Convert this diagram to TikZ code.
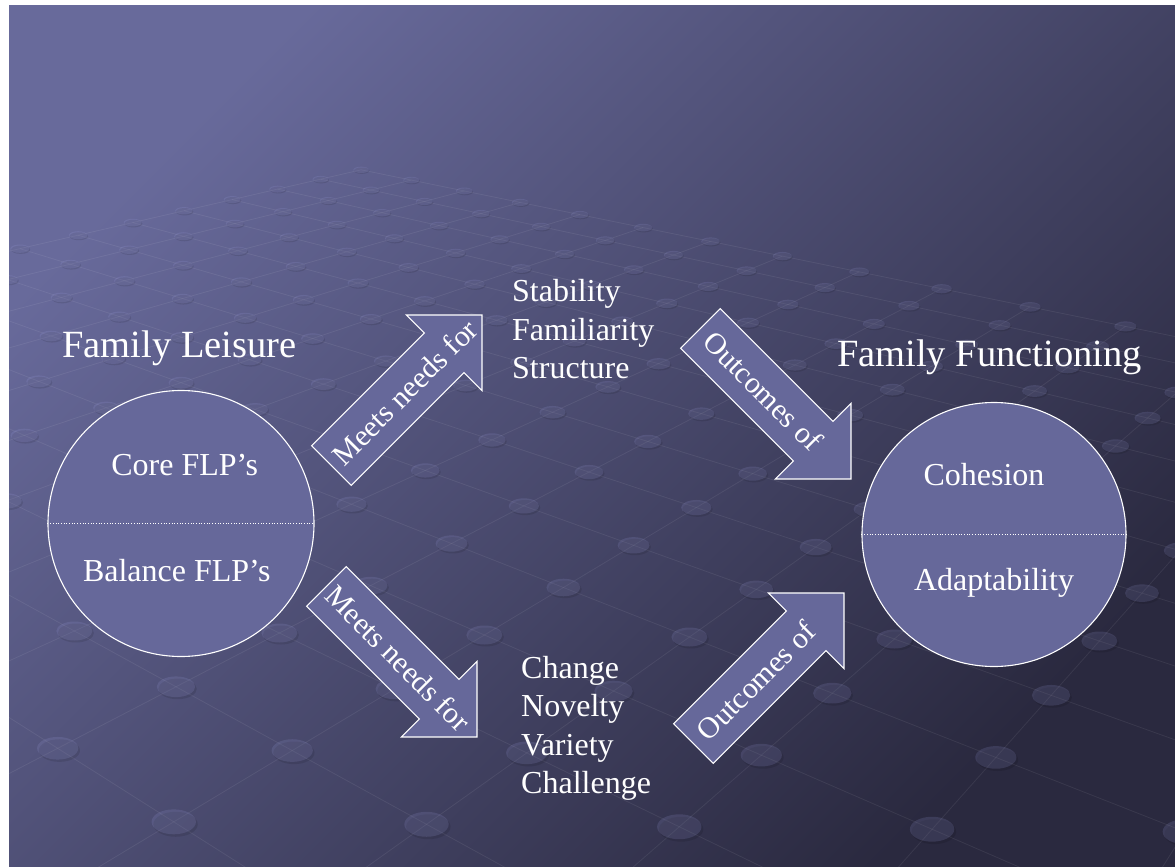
\documentclass[tikz,border=0pt]{standalone}
\usepackage{fontspec}
\setmainfont{Liberation Serif}
\begin{document}
\begin{tikzpicture}[x=1pt,y=-1pt]
\definecolor{bgtop}{RGB}{104,106,155}
\definecolor{bgbottom}{RGB}{42,41,63}
\definecolor{shapefill}{RGB}{102,104,154}
\definecolor{dotlight}{RGB}{160,162,225}
\tikzset{
  shapebox/.style={fill=shapefill, draw=white, line width=1.1pt, line join=miter},
  partcircle/.style={shapebox, circle, inner sep=0pt},
  divider/.style={draw=white, line width=0.7pt, dotted},
  titletext/.style={text=white, inner sep=0pt, font=\fontsize{38.5}{46}\selectfont},
  itemtext/.style={text=white, inner sep=0pt, font=\fontsize{32}{38}\selectfont},
  arrowtext/.style={text=white, inner sep=0pt, font=\fontsize{30}{36}\selectfont},
  gridline/.style={draw=white, opacity=0.07, line width=0.8pt},
  dotshadow/.style={fill=black, opacity=0.10},
  dotface/.style={fill=dotlight, opacity=0.16},
}
% perspective lattice point (u,v) -> named coordinate
\newcommand\latticept[3]{%
  \pgfmathsetmacro\lw{1-0.063*((#1)+(#2))}%
  \pgfmathsetmacro\lx{(279.4+90.5*(#1)-114.5*(#2))/\lw}%
  \pgfmathsetmacro\ly{(633+12.5*(#1)+10.5*(#2))/\lw}%
  \coordinate (#3) at (\lx,\ly);}

\useasboundingbox (0,0) rectangle (1175,867);
\fill[white] (0,0) rectangle (1175,867);
\shade[top color=bgtop, bottom color=bgbottom, shading angle=45] (9,6) rectangle (1175,867);

% background floor grid
\begin{scope}
  \clip (9,6) rectangle (1175,867);
  \foreach \v in {-12,...,6}{
    \pgfmathtruncatemacro\ue{min(9,5-\v)}
    \latticept{-9}{\v}{ga}
    \latticept{\ue}{\v}{gb}
    \draw[gridline] (ga) -- (gb);
  }
  \foreach \u in {-9,...,9}{
    \pgfmathtruncatemacro\ve{min(6,5-\u)}
    \latticept{\u}{-12}{ga}
    \latticept{\u}{\ve}{gb}
    \draw[gridline] (ga) -- (gb);
  }
  \foreach \u in {-9,...,9}{
    \foreach \v in {-12,...,6}{
      \pgfmathtruncatemacro\s{\u+\v}
      \ifnum\s<5
        \latticept{\u}{\v}{gp}
        \pgfmathsetmacro\rx{18/\lw}
        \pgfmathsetmacro\ry{9.5/pow(\lw,1.3)}
        \fill[dotshadow] ([shift={(1.5/\lw,2/\lw)}]gp) ellipse [x radius=\rx, y radius=\ry];
        \fill[dotface] (gp) ellipse [x radius=\rx, y radius=\ry];
      \fi
    }
  }
\end{scope}

% left part: family leisure
\node[titletext, anchor=base] (leisure) at (179.5,357) {Family Leisure};
\node[partcircle, minimum size=266pt] (flp) at (181,523.5) {};
\draw[divider] (flp.west) -- (flp.east);
\node[itemtext, anchor=base] (core) at (184.7,475) {Core FLP’s};
\node[itemtext, anchor=base] (balance) at (176.8,581.5) {Balance FLP’s};

% right part: family functioning
\node[titletext, anchor=base] (functioning) at (989.5,366.5) {Family Functioning};
\node[partcircle, minimum size=264pt] (fam) at (994,534.5) {};
\draw[divider] (fam.west) -- (fam.east);
\node[itemtext, anchor=base] (cohesion) at (984,485) {Cohesion};
\node[itemtext, anchor=base] (adapt) at (994,590) {Adaptability};

% needs lists
\node[itemtext, anchor=base west] (stab) at (512,301.7) {Stability};
\node[itemtext, anchor=base west] (fam1) at (512,340) {Familiarity};
\node[itemtext, anchor=base west] (struct) at (512,378.3) {Structure};
\node[itemtext, anchor=base west] (change) at (521,678) {Change};
\node[itemtext, anchor=base west] (novel) at (521,716.5) {Novelty};
\node[itemtext, anchor=base west] (variety) at (521,755) {Variety};
\node[itemtext, anchor=base west] (chall) at (521,793.5) {Challenge};

% block arrows
\foreach \cx/\cy/\ang in {406.7/390.3/45, 775.7/403.7/-45, 401.7/661.7/-45, 768.7/668.3/45}{
  \begin{scope}[shift={(\cx,\cy)}, rotate=\ang]
    \draw[shapebox] (-106.5,-28) -- (53,-28) -- (53,-53.5) -- (106.5,0)
      -- (53,53.5) -- (53,28) -- (-106.5,28) -- cycle;
  \end{scope}
}
\node[arrowtext, rotate=45] (meetsA) at (404.6,392.4) {Meets needs for};
\node[arrowtext, rotate=-45] (outA) at (763,391) {Outcomes of};
\node[arrowtext, rotate=-45] (meetsB) at (398.2,658.2) {Meets needs for};
\node[arrowtext, rotate=45] (outB) at (756,681) {Outcomes of};
\end{tikzpicture}
\end{document}
